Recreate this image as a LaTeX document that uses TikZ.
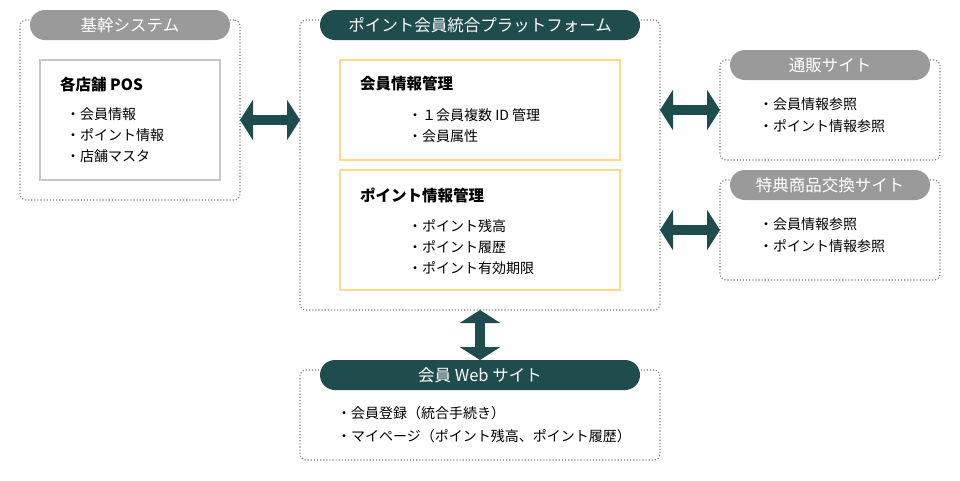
\documentclass[tikz,border=0pt]{standalone}
\usepackage{fontspec}
\setmainfont{Noto Sans CJK JP}
\usetikzlibrary{arrows.meta}
\definecolor{dteal}{HTML}{1F4C4C}
\definecolor{pillgray}{HTML}{9A9A9A}
\definecolor{dotgray}{HTML}{7A7A7A}
\definecolor{boxgray}{HTML}{C8C8C8}
\definecolor{boxorange}{HTML}{FFD98C}
\tikzset{
  outerbox/.style={draw=dotgray, dotted, line width=1.1pt, rounded corners=6pt, inner sep=0pt, outer sep=0pt, fill=white},
  pill/.style={rounded corners=15pt, minimum height=30pt, inner sep=0pt, outer sep=0pt, text=white, font=\fontsize{16.5}{19}\selectfont},
  graypill/.style={pill, fill=pillgray},
  tealpill/.style={pill, fill=dteal},
  posbox/.style={draw=boxgray, line width=1.5pt, inner sep=0pt, outer sep=0pt},
  orbox/.style={draw=boxorange, line width=1.5pt, inner sep=0pt, outer sep=0pt},
  ttl/.style={anchor=west, inner sep=0pt, font=\fontsize{15.5}{18}\selectfont\bfseries},
  bul/.style={anchor=west, inner sep=0pt, font=\fontsize{14}{16}\selectfont},
  bigarrow/.style={draw=dteal, line width=10pt, {Triangle[length=13pt 0 0, width=40pt 0 0]}-{Triangle[length=13pt 0 0, width=40pt 0 0]}, fill=dteal}
}
\begin{document}
\begin{tikzpicture}[x=1pt,y=-1pt]
\useasboundingbox[fill=white] (0,0) rectangle (960,480);
% outer boxes
\node[outerbox, minimum width=220pt, minimum height=180pt] (kikan) at (130,110) {};
\node[outerbox, minimum width=360pt, minimum height=290pt] (plat) at (480,165) {};
\node[outerbox, minimum width=220pt, minimum height=100pt] (tsuhan) at (830,110) {};
\node[outerbox, minimum width=220pt, minimum height=100pt] (tokuten) at (830,230) {};
\node[outerbox, minimum width=360pt, minimum height=90pt] (web) at (480,415) {};
% header pills
\node[graypill, minimum width=200pt] (kikanh) at (130,25) {基幹システム};
\node[tealpill, minimum width=320pt] (plath) at (480,25) {ポイント会員統合プラットフォーム};
\node[graypill, minimum width=200pt] (tsuhanh) at (830,65) {通販サイト};
\node[graypill, minimum width=200pt] (tokutenh) at (830,185) {特典商品交換サイト};
\node[tealpill, minimum width=320pt] (webh) at (480,375) {会員 Web サイト};
% inner boxes
\node[posbox, minimum width=180pt, minimum height=120pt] (pos) at (130,120) {};
\node[orbox, minimum width=280pt, minimum height=100pt] (mem) at (480,110) {};
\node[orbox, minimum width=280pt, minimum height=120pt] (pt) at (480,230) {};
% texts
\node[ttl] (postitle) at (60,85) {各店舗 POS};
\node[bul] (pos1) at (66,114) {・会員情報};
\node[bul] (pos2) at (66,135) {・ポイント情報};
\node[bul] (pos3) at (66,156) {・店舗マスタ};
\node[ttl] (memtitle) at (360,84) {会員情報管理};
\node[bul] (mem1) at (408,115) {・１会員複数 ID 管理};
\node[bul] (mem2) at (408,136) {・会員属性};
\node[ttl] (pttitle) at (360,195) {ポイント情報管理};
\node[bul] (pt1) at (408,226) {・ポイント残高};
\node[bul] (pt2) at (408,247) {・ポイント履歴};
\node[bul] (pt3) at (408,268) {・ポイント有効期限};
\node[bul] (ts1) at (759,104) {・会員情報参照};
\node[bul] (ts2) at (759,126) {・ポイント情報参照};
\node[bul] (tk1) at (759,224) {・会員情報参照};
\node[bul] (tk2) at (759,246) {・ポイント情報参照};
\node[bul] (web1) at (337,413) {・会員登録（統合手続き）};
\node[bul] (web2) at (337,436) {・マイページ（ポイント残高、ポイント履歴）};
% arrows
\draw[bigarrow] (kikan.east |- pos) -- (plat.west |- pos);
\draw[bigarrow] (plat.east |- tsuhan) -- (tsuhan.west);
\draw[bigarrow] (plat.east |- tokuten) -- (tokuten.west);
\draw[bigarrow] (plat.south) -- (webh.north);
\end{tikzpicture}
\end{document}
